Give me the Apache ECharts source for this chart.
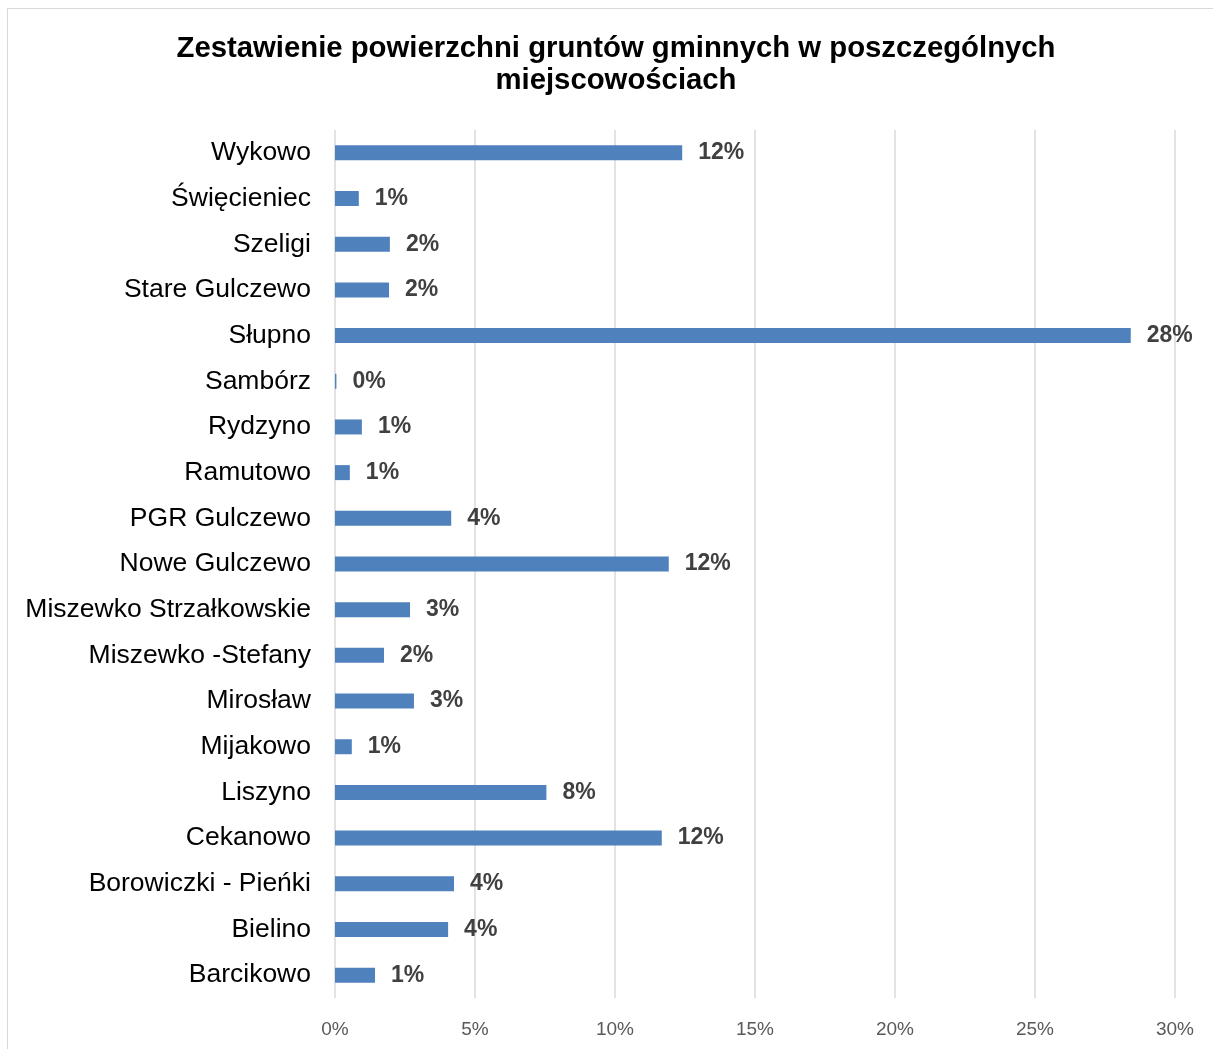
<!DOCTYPE html>
<html><head><meta charset="utf-8">
<script src="https://cdn.jsdelivr.net/npm/echarts@6/dist/echarts.min.js"></script>
<style>html,body{margin:0;padding:0;background:#fff}#c{width:1213px;height:1049px}</style>
</head><body><div id="c"></div>
<script>
const categories = ["Wykowo","Święcieniec","Szeligi","Stare Gulczewo","Słupno","Sambórz","Rydzyno","Ramutowo","PGR Gulczewo","Nowe Gulczewo","Miszewko Strzałkowskie","Miszewko -Stefany","Mirosław","Mijakowo","Liszyno","Cekanowo","Borowiczki - Pieńki","Bielino","Barcikowo"];
const values = [12.4,0.85,1.96,1.93,28.42,0.05,0.96,0.53,4.15,11.92,2.68,1.75,2.82,0.6,7.55,11.67,4.25,4.04,1.43];
const xTicks = [0,5,10,15,20,25,30];
const titleText = "Zestawienie powierzchni gruntów gminnych w poszczególnych\nmiejscowościach";

const chart = echarts.init(document.getElementById('c'));
chart.setOption({
  animation:false,
  graphic:[{type:'rect',shape:{x:7.5,y:8.5,width:1210,height:1045},style:{fill:'none',stroke:'#d9d9d9',lineWidth:1}}],
  title:{text:titleText,left:611,textAlign:'center',top:28,textStyle:{fontFamily:'Liberation Sans, Arial',fontWeight:'bold',fontSize:29.3,color:'#000',lineHeight:32}},
  grid:{left:335,right:38,top:130,bottom:51,containLabel:false},
  xAxis:{type:'value',min:xTicks[0],max:xTicks[xTicks.length-1],interval:5,
    axisLine:{show:false},axisTick:{show:false},
    splitLine:{lineStyle:{color:'#d9d9d9',width:1.5}},
    axisLabel:{formatter:v=>v+'%',fontFamily:'Liberation Sans, Arial',fontSize:19,color:'#595959',margin:22}},
  yAxis:{type:'category',data:categories,inverse:true,
    axisLine:{show:false},axisTick:{show:false},
    axisLabel:{fontFamily:'Liberation Sans, Arial',fontSize:26.5,color:'#000',margin:24}},
  series:[{type:'bar',data:values,barWidth:15,itemStyle:{color:'#4f81bd'},
    label:{show:true,position:'right',distance:16,formatter:p=>Math.round(p.value)+'%',
      fontFamily:'Liberation Sans, Arial',fontWeight:'bold',fontSize:23,color:'#404040'}}]
});
</script></body></html>
